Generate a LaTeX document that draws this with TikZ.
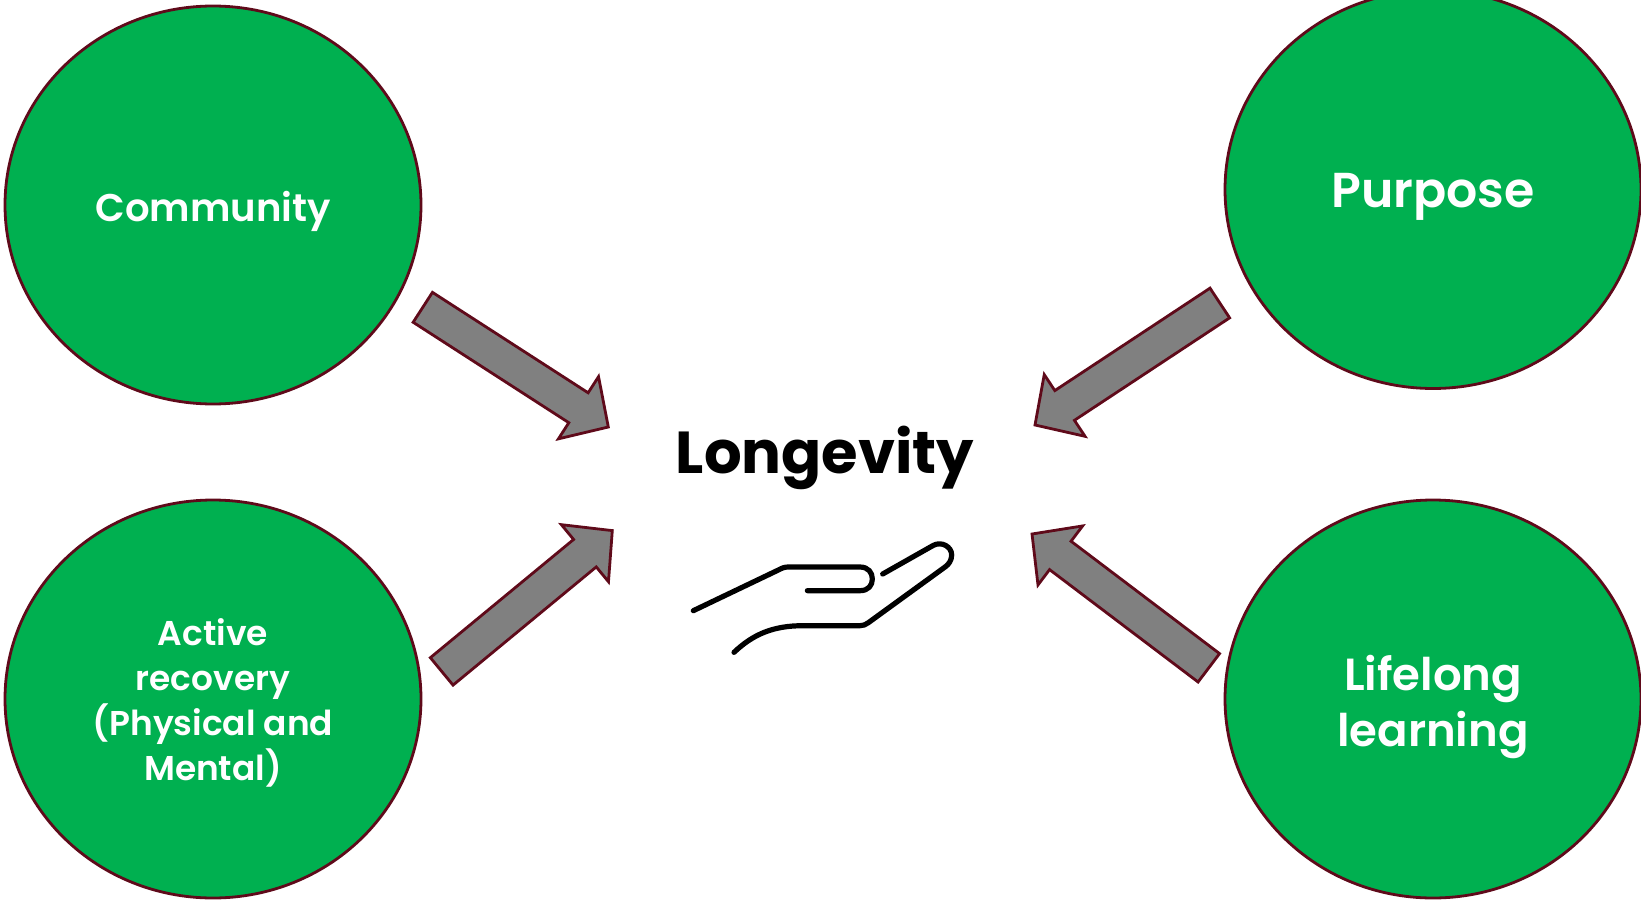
\documentclass[tikz,border=0pt]{standalone}
\usepackage{fontspec}
\setmainfont{Poppins}
\newfontfamily\labelfont{Poppins SemiBold}
\usetikzlibrary{calc, positioning, shapes.geometric}

\definecolor{circlegreen}{HTML}{00B050}
\definecolor{edgered}{HTML}{5F0A1A}
\definecolor{arrowgray}{HTML}{808080}

\newcommand{\blockarrow}[2]{
  \coordinate (neck) at ($(#2)!17.75pt!(#1)$);
  \draw[arrow body] ($(#1)!8.9pt!90:(#2)$) -- ($(neck)!8.9pt!90:(#2)$)
    -- ($(neck)!18.5pt!90:(#2)$) -- (#2) -- ($(neck)!18.5pt!-90:(#2)$)
    -- ($(neck)!8.9pt!-90:(#2)$) -- ($(#1)!8.9pt!-90:(#2)$) -- cycle;
}

\begin{document}
\begin{tikzpicture}[x=0.5pt,y=-0.5pt,
                    main node/.style={ellipse,draw=edgered,fill=circlegreen,line width=1.4pt,
                      minimum width=208pt,minimum height=199pt,inner sep=0pt},
                    label node/.style={text=white,align=center,inner sep=0pt},
                    arrow body/.style={draw=edgered,fill=arrowgray,line width=1.4pt,miter limit=10},
                    hand line/.style={draw=black,line width=2.6pt,line cap=round,line join=round}]

  \useasboundingbox (0,0) rectangle (1641,899);

  \node[main node] (community) at (213,205) {};
  \node[main node] (active) at (213,699) {};
  \node[main node] (purpose) at (1433,189.5) {};
  \node[main node] (lifelong) at (1433,699) {};

  \node[label node,font=\fontsize{19.3}{23}\labelfont] (community label) at (213,211) {Community};
  \node[label node,font=\fontsize{17.2}{22.5}\labelfont] (active label) at (213,703) {Active\\recovery\\(Physical and\\Mental)};
  \node[label node,font=\fontsize{24.5}{29}\labelfont] (purpose label) at (1433,197) {Purpose};
  \node[label node,font=\fontsize{22.5}{27.7}\labelfont] (lifelong label) at (1433,707) {Lifelong\\learning};

  \node[font=\fontsize{29.6}{36}\selectfont\bfseries] (longevity) at (825,458) {Longevity};

  % arrow ends
  \coordinate (community tail) at (422.8,307.3);
  \coordinate (community tip) at (608.3,427);
  \coordinate (purpose tail) at (1219.8,303);
  \coordinate (purpose tip) at (1035,425);
  \coordinate (active tail) at (441.7,671.4);
  \coordinate (active tip) at (612.3,530.6);
  \coordinate (lifelong tail) at (1208.8,667.8);
  \coordinate (lifelong tip) at (1032,534);

  \blockarrow{community tail}{community tip}
  \blockarrow{purpose tail}{purpose tip}
  \blockarrow{active tail}{active tip}
  \blockarrow{lifelong tail}{lifelong tip}

  % hand
  \begin{scope}[shift={(660,400)},x=0.16667pt,y=-0.16667pt]
    \draw[hand line] (100,632) -- (355,510) .. controls (367,504) and (372,501) .. (385,501)
      -- (600,501) .. controls (625,501) and (637,518) .. (637,537)
      .. controls (637,556) and (625,572) .. (600,572) -- (442,572);
    \draw[hand line] (668,522) -- (820,436) .. controls (845,423) and (875,440) .. (875,465)
      .. controls (875,482) and (865,494) .. (855,501) -- (625,668)
      .. controls (617,674) and (610,677) .. (600,677) -- (430,677)
      .. controls (340,677) and (280,702) .. (222,757);
  \end{scope}

\end{tikzpicture}
\end{document}
